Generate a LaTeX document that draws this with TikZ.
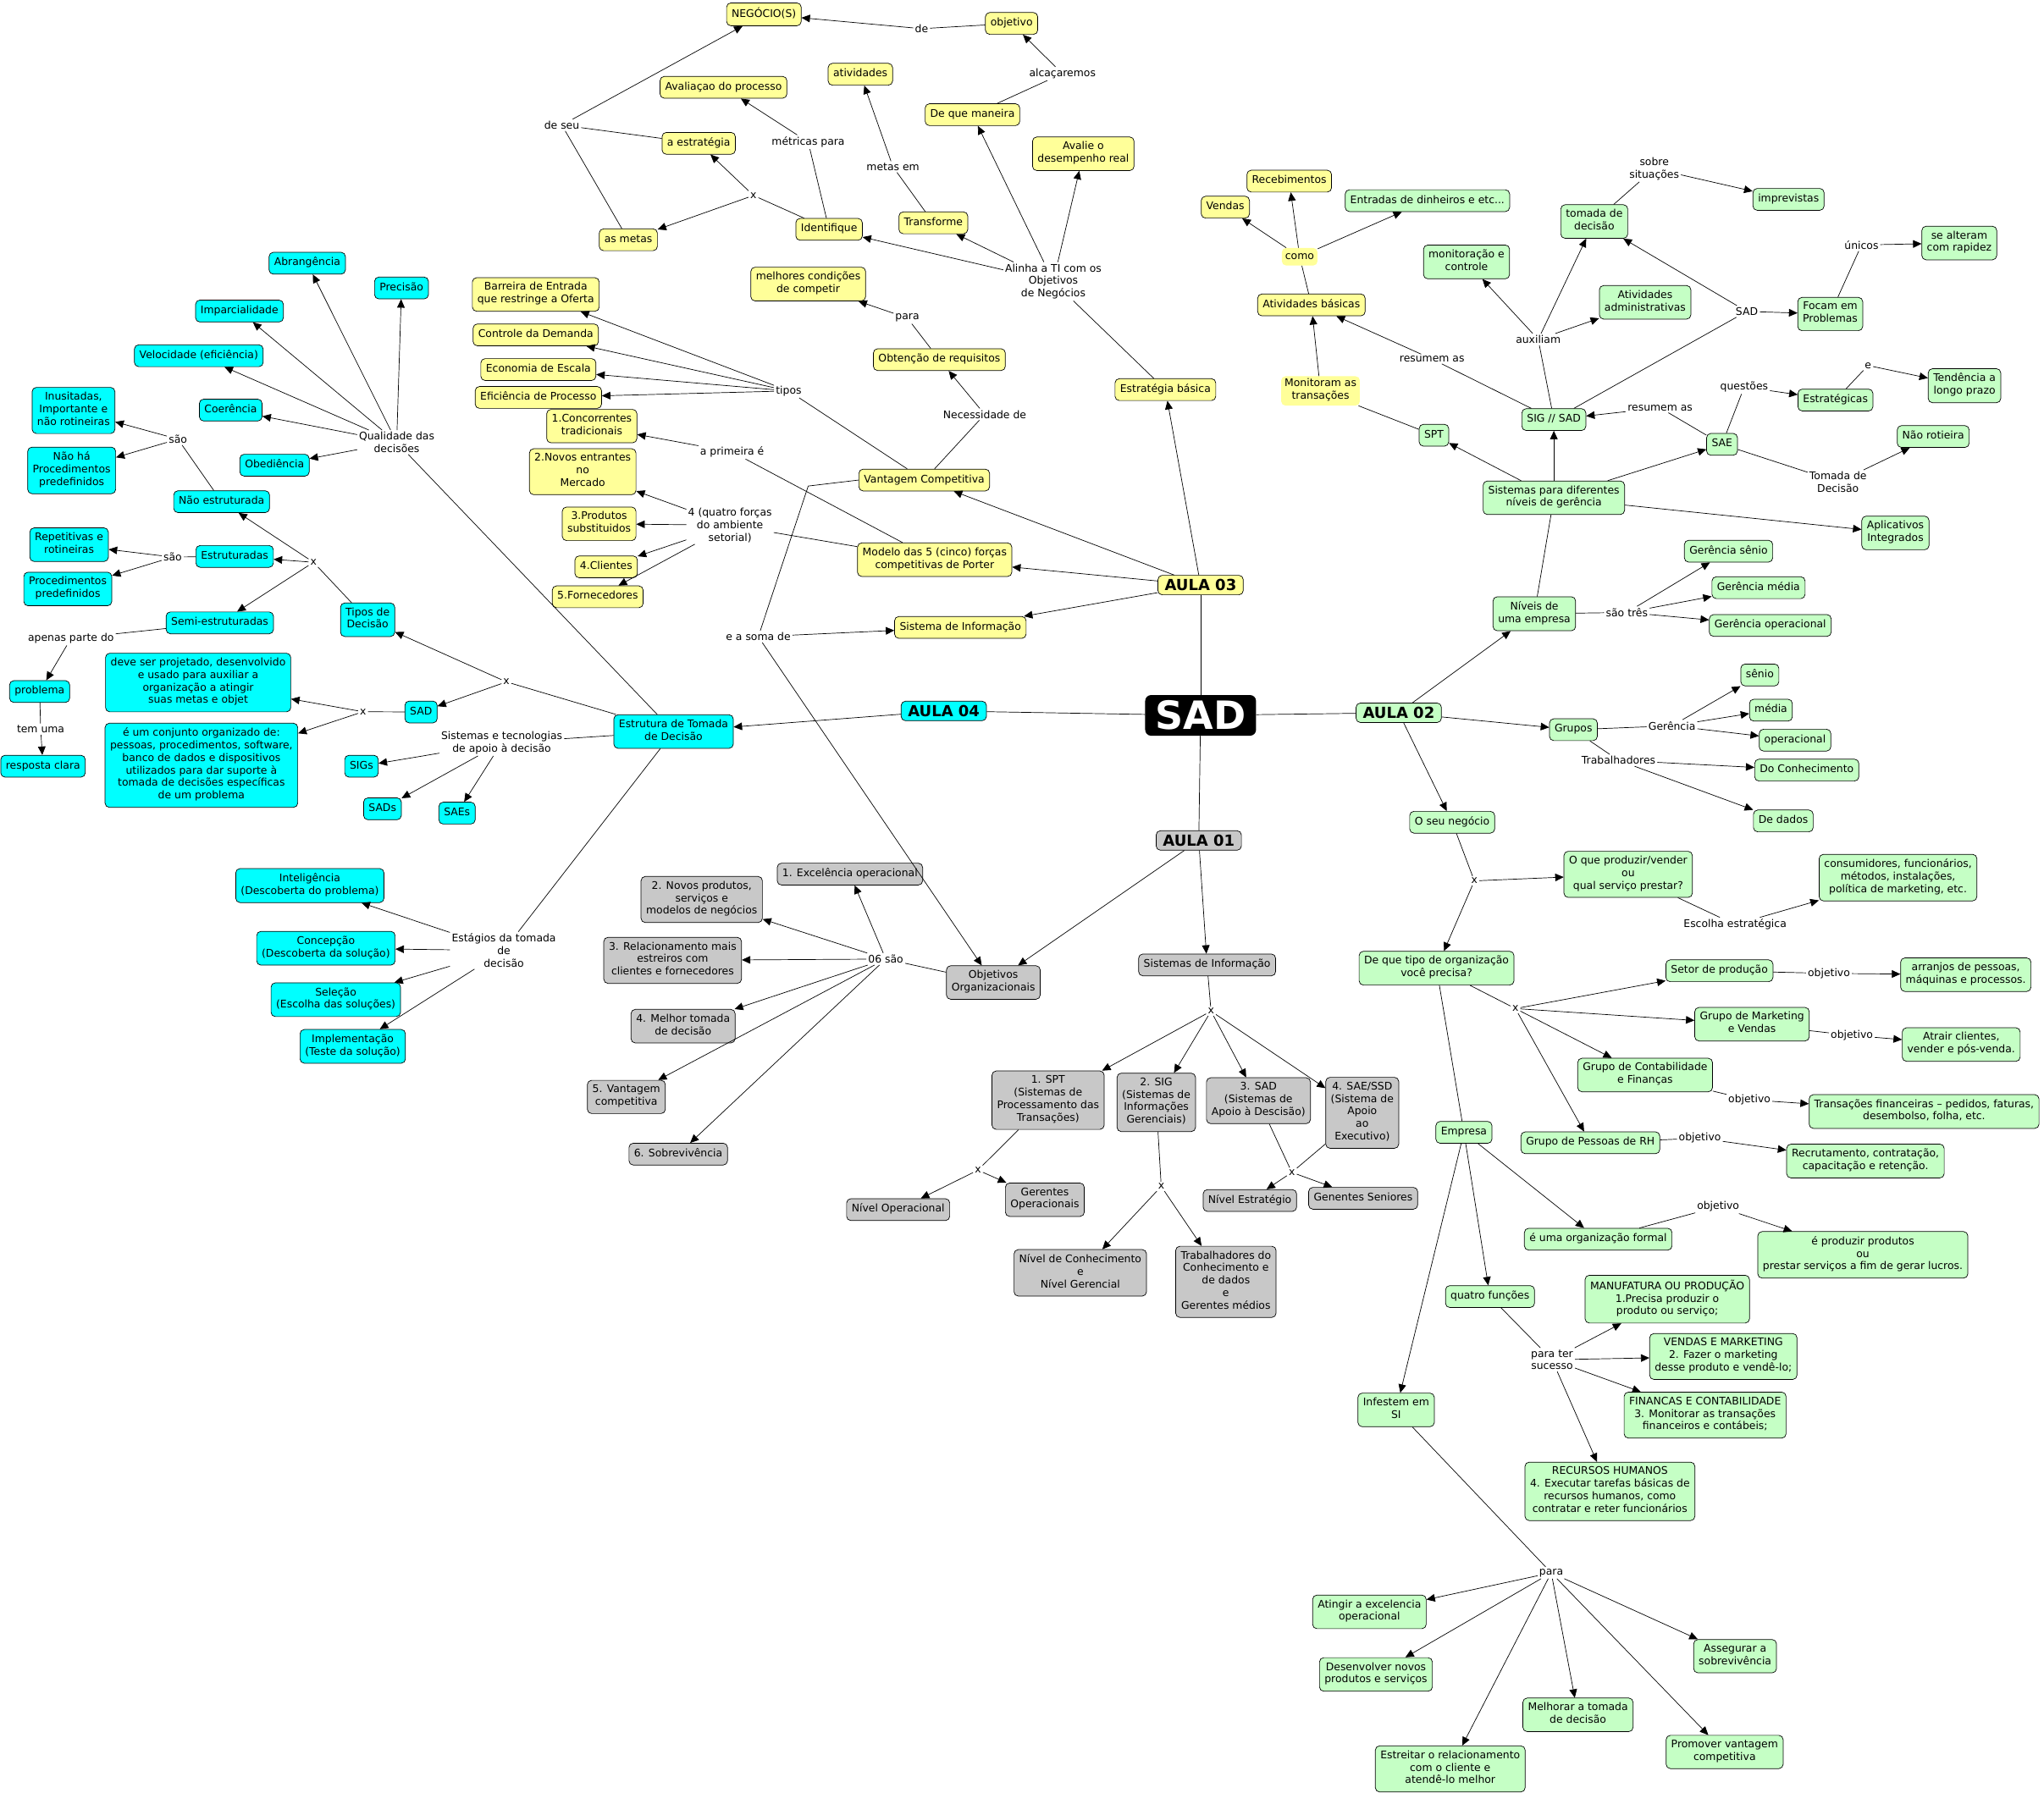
\documentclass[tikz,border=0pt]{standalone}
\usepackage{fontspec}
\setmainfont{DejaVu Sans}
\usetikzlibrary{arrows.meta}
\definecolor{cyY}{RGB}{255,255,153}
\definecolor{cyC}{RGB}{0,255,255}
\definecolor{cyG}{RGB}{197,255,197}
\definecolor{cyK}{RGB}{200,200,200}
\newcommand{\mapfont}{\fontsize{12.4}{14.8}\selectfont}
\newcommand{\aulaFnt}{\fontsize{18}{20}\selectfont\bfseries}
\newcommand{\sadFnt}{\fontsize{46}{50}\selectfont\bfseries}
\tikzset{
  cbox/.style={draw=black, line width=0.7pt, rounded corners=5pt, align=center, inner xsep=6pt, inner ysep=5.5pt, font=\mapfont, execute at begin node=\strut, execute at end node=\strut},
  yel/.style={cbox, fill=cyY},
  cyn/.style={cbox, fill=cyC},
  grn/.style={cbox, fill=cyG},
  gry/.style={cbox, fill=cyK},
  soft/.style={fill=cyY, rounded corners=5pt, align=center, inner xsep=4pt, inner ysep=3pt, font=\mapfont, execute at begin node=\strut, execute at end node=\strut},
  lbl/.style={align=center, inner sep=2pt, font=\mapfont},
  sadbox/.style={fill=black, text=white, rounded corners=7pt, font=\sadFnt, inner xsep=12pt, inner ysep=7.5pt, text height=33pt, text depth=0pt},
  aulabox/.style={draw=black, line width=0.7pt, rounded corners=5pt, font=\aulaFnt, inner xsep=8pt, inner ysep=5pt, text height=13pt, text depth=0pt},
  con/.style={line width=0.7pt},
  arr/.style={line width=0.7pt, -{Triangle[length=10pt,width=9pt]}}
}
\begin{document}
\begin{tikzpicture}[x=1.5395pt,y=-1.5392pt]
\useasboundingbox (0,0) rectangle (1568,1376);
\fill[white] (0,0) rectangle (1568,1376);

% ---------- centre ----------
\node[sadbox] (sad) at (921,549) {SAD};
\node[aulabox, fill=cyY] (a3) at (921,449) {AULA 03};
\node[aulabox, fill=cyC] (a4) at (724,545.6) {AULA 04};
\node[aulabox, fill=cyG] (a2) at (1073,547) {AULA 02};
\node[aulabox, fill=cyK] (a1) at (919.6,645) {AULA 01};

% ---------- AULA 03 ----------
\node[yel] (negocio) at (586,11) {NEGÓCIO(S)};
\node[yel] (objetivo) at (776,18) {objetivo};
\node[lbl] (lde) at (707,22) {de};
\node[lbl] (lalca) at (815,56.5) {alcaçaremos};
\node[yel] (dequem) at (746,88) {De que maneira};
\node[yel] (ativ) at (660,57) {atividades};
\node[yel] (avaliacao) at (555,67) {Avaliaçao do processo};
\node[lbl] (lmetr) at (620,109) {métricas para};
\node[lbl] (lmetas) at (685,128) {metas em};
\node[yel] (avalie) at (831,118) {Avalie o\\desempenho real};
\node[yel] (aestr) at (536,110) {a estratégia};
\node[lbl] (lseu) at (431,96) {de seu};
\node[lbl] (lx1) at (578,150) {x};
\node[yel] (ident) at (636,176) {Identifique};
\node[yel] (transf) at (716,171) {Transforme};
\node[yel] (asmetas) at (482,184) {as metas};
\node[lbl] (lalinha) at (808,216) {Alinha a TI com os\\Objetivos\\de Negócios};
\node[yel] (estrbas) at (894,299) {Estratégia básica};
\node[yel] (barreira) at (411,226) {Barreira de Entrada\\que restringe a Oferta};
\node[yel] (controle) at (411,257) {Controle da Demanda};
\node[yel] (economia) at (413,283.6) {Economia de Escala};
\node[yel] (eficiencia) at (413,305) {Eficiência de Processo};
\node[yel] (concor) at (454,327) {1.Concorrentes\\tradicionais};
\node[lbl] (ltipos) at (605,300) {tipos};
\node[lbl] (lprim) at (561.6,346.8) {a primeira é};
\node[yel] (novos) at (447,362) {2.Novos entrantes\\no\\Mercado};
\node[yel] (produtos) at (459.6,402) {3.Produtos\\substituidos};
\node[yel] (clientes) at (465,435) {4.Clientes};
\node[yel] (fornec) at (458.5,458) {5.Fornecedores};
\node[lbl] (lquatro) at (560,403) {4 (quatro forças\\do ambiente\\setorial)};
\node[yel] (modelo) at (717,429.5) {Modelo das 5 (cinco) forças\\competitivas de Porter};
\node[yel] (vantc) at (709,368.4) {Vantagem Competitiva};
\node[yel] (melhores) at (620,218) {melhores condições\\de competir};
\node[lbl] (lpara1) at (696,244) {para};
\node[yel] (obtencao) at (720.6,276) {Obtenção de requisitos};
\node[lbl] (lnec) at (755.4,318) {Necessidade de};
\node[yel] (sisinf3) at (736.7,481.5) {Sistema de Informação};
\node[lbl] (lsoma) at (581.7,488.6) {e a soma de};
\coordinate (csoma) at (620,373);

% ---------- AULA 02 ----------
\node[yel] (receb) at (989,139) {Recebimentos};
\node[yel] (vendas) at (940,159) {Vendas};
\node[soft] (lcomo) at (997,197) {como};
\node[yel] (ativbas) at (1006,234) {Atividades básicas};
\node[soft] (lmonit) at (1013,300) {Monitoram as\\transações};
\node[grn] (entradas) at (1095,154) {Entradas de dinheiros e etc...};
\node[grn] (tomada) at (1223,170) {tomada de\\decisão};
\node[lbl] (lsobre) at (1269,129.5) {sobre\\situações};
\node[grn] (imprev) at (1372,153) {imprevistas};
\node[grn] (monitor) at (1125,201) {monitoração e\\controle};
\node[grn] (ativadm) at (1262,232) {Atividades\\administrativas};
\node[lbl] (lsad) at (1340,239) {SAD};
\node[grn] (focam) at (1404,241) {Focam em\\Problemas};
\node[lbl] (lunicos) at (1428,188) {únicos};
\node[grn] (alteram) at (1503,186.5) {se alteram\\com rapidez};
\node[lbl] (laux) at (1180,260.5) {auxiliam};
\node[lbl] (lres1) at (1098.5,275.5) {resumem as};
\node[grn] (sigsad) at (1192,322) {SIG // SAD};
\node[lbl] (lres2) at (1273.5,313) {resumem as};
\node[lbl] (lquest) at (1338,297) {questões};
\node[grn] (estrat) at (1408,307) {Estratégicas};
\node[lbl] (le) at (1433,280.5) {e};
\node[grn] (tend) at (1507,296) {Tendência a\\longo prazo};
\node[grn] (spt) at (1100,334) {SPT};
\node[grn] (sae) at (1321,341) {SAE};
\node[grn] (naorot) at (1483,335) {Não rotieira};
\node[lbl] (ltomada) at (1410,370) {Tomada de\\Decisão};
\node[grn] (sistdif) at (1192,382) {Sistemas para diferentes\\níveis de gerência};
\node[grn] (aplic) at (1454,409) {Aplicativos\\Integrados};
\node[grn] (gsenio) at (1326,423) {Gerência sênio};
\node[grn] (gmedia) at (1349,451) {Gerência média};
\node[grn] (goper) at (1358,480) {Gerência operacional};
\node[grn] (niveis) at (1177,471) {Níveis de\\uma empresa};
\node[lbl] (ltres) at (1248,470) {são três};
\node[grn] (senio) at (1350,518) {sênio};
\node[grn] (media) at (1358.5,545) {média};
\node[grn] (operac) at (1377,568) {operacional};
\node[lbl] (lger) at (1282.6,557) {Gerência};
\node[grn] (grupos) at (1207,560) {Grupos};
\node[lbl] (ltrab) at (1241.6,583.5) {Trabalhadores};
\node[grn] (docon) at (1386,591) {Do Conhecimento};
\node[grn] (dedados) at (1368,630) {De dados};
\node[grn] (oseu) at (1114,631) {O seu negócio};
\node[lbl] (lx9) at (1131,676) {x};
\node[grn] (oque) at (1249,671) {O que produzir/vender\\ou\\qual serviço prestar?};
\node[grn] (consum) at (1456,673.5) {consumidores, funcionários,\\métodos, instalações,\\política de marketing, etc.};
\node[lbl] (lescolha) at (1331,709.5) {Escolha estratégica};
\node[grn] (dequetipo) at (1102,743) {De que tipo de organização\\você precisa?};
\node[lbl] (lx10) at (1162.5,774) {x};
\node[grn] (setor) at (1319,745) {Setor de produção};
\node[lbl] (lobj1) at (1403,747) {objetivo};
\node[grn] (arranjos) at (1508,748) {arranjos de pessoas,\\máquinas e processos.};
\node[grn] (mkt) at (1344,786) {Grupo de Marketing\\e Vendas};
\node[lbl] (lobj2) at (1420.6,794.6) {objetivo};
\node[grn] (atrair) at (1504.5,801.6) {Atrair clientes,\\vender e pós-venda.};
\node[grn] (contab) at (1262,825) {Grupo de Contabilidade\\e Finanças};
\node[lbl] (lobj3) at (1342,844) {objetivo};
\node[grn] (transac) at (1476,853) {Transações financeiras – pedidos, faturas,\\desembolso, folha, etc.};
\node[grn] (rh) at (1220,877) {Grupo de Pessoas de RH};
\node[lbl] (lobj4) at (1304,873.5) {objetivo};
\node[grn] (recrut) at (1431,891) {Recrutamento, contratação,\\capacitação e retenção.};
\node[grn] (empresa) at (1123,869) {Empresa};
\node[grn] (formal) at (1226,951) {é uma organização formal};
\node[lbl] (lobj5) at (1318,926) {objetivo};
\node[grn] (produzir) at (1429,963) {é produzir produtos\\ou\\prestar serviços a fim de gerar lucros.};
\node[grn] (quatrof) at (1143,995) {quatro funções};
\node[grn] (manuf) at (1279,997) {MANUFATURA OU PRODUÇÃO\\1.Precisa produzir o\\produto ou serviço;};
\node[lbl] (lparater) at (1190.6,1043.5) {para ter\\sucesso};
\node[grn] (vendmkt) at (1322,1041) {VENDAS E MARKETING\\2. Fazer o marketing\\desse produto e vendê-lo;};
\node[grn] (financ) at (1308,1086) {FINANCAS E CONTABILIDADE\\3. Monitorar as transações\\financeiros e contábeis;};
\node[grn] (rechum) at (1235,1144.5) {RECURSOS HUMANOS\\4. Executar tarefas básicas de\\recursos humanos, como\\contratar e reter funcionários};
\node[grn] (infestem) at (1071,1082) {Infestem em\\SI};
\node[lbl] (lpara2) at (1190,1207) {para};
\node[grn] (atingir) at (1050.5,1237) {Atingir a excelencia\\operacional};
\node[grn] (desenv) at (1055.5,1285) {Desenvolver novos\\produtos e serviços};
\node[grn] (estreitar) at (1112.5,1357.5) {Estreitar o relacionamento\\com o cliente e\\atendê-lo melhor};
\node[grn] (melhorar) at (1210.5,1316) {Melhorar a tomada\\de decisão};
\node[grn] (promover) at (1323,1344.5) {Promover vantagem\\competitiva};
\node[grn] (assegurar) at (1331,1271) {Assegurar a\\sobrevivência};

% ---------- AULA 04 ----------
\node[cyn] (abrang) at (235.7,202) {Abrangência};
\node[cyn] (precisao) at (308,221) {Precisão};
\node[cyn] (impar) at (183.7,238.7) {Imparcialidade};
\node[cyn] (veloc) at (152.5,273) {Velocidade (eficiência)};
\node[cyn] (coer) at (177,314.7) {Coerência};
\node[lbl] (lqual) at (304.3,339.4) {Qualidade das\\decisões};
\node[cyn] (inusit) at (56.4,315) {Inusitadas,\\Importante e\\não rotineiras};
\node[lbl] (lsao1) at (136.5,337) {são};
\node[cyn] (naoha) at (55,361) {Não há\\Procedimentos\\predefinidos};
\node[cyn] (obed) at (210.6,357) {Obediência};
\node[cyn] (naoestr) at (170,385) {Não estruturada};
\node[cyn] (repet) at (53,418) {Repetitivas e\\rotineiras};
\node[lbl] (lsao2) at (132.5,427.5) {são};
\node[cyn] (estrut) at (180,427) {Estruturadas};
\node[lbl] (lx7) at (240.5,431.5) {x};
\node[cyn] (procpre) at (52,452) {Procedimentos\\predefinidos};
\node[cyn] (semi) at (168.6,478) {Semi-estruturadas};
\node[cyn] (tiposdec) at (282,475.6) {Tipos de\\Decisão};
\node[lbl] (lapenas) at (54.4,490) {apenas parte do};
\node[cyn] (deve) at (152,523.8) {deve ser projetado, desenvolvido\\e usado para auxiliar a\\organização a atingir\\suas metas e objet};
\node[cyn] (problema) at (30.4,530.7) {problema};
\node[lbl] (lx6) at (388.5,523.3) {x};
\node[cyn] (sadc) at (323,546.4) {SAD};
\node[lbl] (lx8) at (278.5,546.2) {x};
\node[cyn] (estrutura) at (516.7,561.4) {Estrutura de Tomada\\de Decisão};
\node[lbl] (ltem) at (31.2,559.6) {tem uma};
\node[cyn] (conjunto) at (154.5,587.3) {é um conjunto organizado de:\\pessoas, procedimentos, software,\\banco de dados e dispositivos\\utilizados para dar suporte à\\tomada de decisões específicas\\de um problema};
\node[lbl] (lsistec) at (384.9,570) {Sistemas e tecnologias\\de apoio à decisão};
\node[cyn] (resposta) at (33,588) {resposta clara};
\node[cyn] (sigs) at (277.3,588) {SIGs};
\node[cyn] (sads) at (293.4,620.7) {SADs};
\node[cyn] (saes) at (350.6,624) {SAEs};
\node[cyn] (intel) at (237.7,679.6) {Inteligência\\(Descoberta do problema)};
\node[lbl] (lestag) at (386.5,729.4) {Estágios da tomada\\de\\decisão};
\node[cyn] (concep) at (250,727.7) {Concepção\\(Descoberta da solução)};
\node[cyn] (selec) at (257.6,767.2) {Seleção\\(Escolha das soluções)};
\node[cyn] (implem) at (270.6,803) {Implementação\\(Teste da solução)};

% ---------- AULA 01 ----------
\node[gry] (e1) at (652,670.8) {1. Excelência operacional};
\node[gry] (e2) at (538.3,690.3) {2. Novos produtos,\\serviços e\\modelos de negócios};
\node[gry] (e3) at (516,737) {3. Relacionamento mais\\estreiros com\\clientes e fornecedores};
\node[lbl] (lseis) at (679.5,736) {06 são};
\node[gry] (objorg) at (762,754) {Objetivos\\Organizacionais};
\node[gry] (e4) at (524,787.5) {4. Melhor tomada\\de decisão};
\node[gry] (e5) at (480.5,841.8) {5. Vantagem\\competitiva};
\node[gry] (e6) at (520.3,885.7) {6. Sobrevivência};
\node[gry] (sisinf1) at (926,740.5) {Sistemas de Informação};
\node[lbl] (lx2) at (929,776) {x};
\node[gry] (spt1) at (804,844.3) {1. SPT\\(Sistemas de\\Processamento das\\Transações)};
\node[gry] (sig2) at (887,846) {2. SIG\\(Sistemas de\\Informações\\Gerenciais)};
\node[gry] (sad3) at (965.4,844.7) {3. SAD\\(Sistemas de\\Apoio à Descisão)};
\node[gry] (sae4) at (1045,854) {4. SAE/SSD\\(Sistema de\\Apoio\\ao\\Executivo)};
\node[lbl] (lx3) at (750.2,898) {x};
\node[gry] (nivop) at (689,928.3) {Nível Operacional};
\node[gry] (gerop) at (801.5,920.7) {Gerentes\\Operacionais};
\node[lbl] (lx4) at (890.8,910.5) {x};
\node[gry] (nivcon) at (828.7,976.8) {Nível de Conhecimento\\e\\Nível Gerencial};
\node[gry] (trabc) at (940.4,983.7) {Trabalhadores do\\Conhecimento e\\de dados\\e\\Gerentes médios};
\node[lbl] (lx5) at (991,899.7) {x};
\node[gry] (nivest) at (958.8,921.3) {Nível Estratégio};
\node[gry] (gensen) at (1045.7,919.6) {Genentes Seniores};

% ================= connectors =================
\draw[con] (sad) -- (a3);
\draw[con] (sad) -- (a4);
\draw[con] (sad) -- (a2);
\draw[con] (sad) -- (a1);

% AULA 03
\draw[arr] (a3) -- (vantc);
\draw[arr] (a3) -- (modelo);
\draw[arr] (a3) -- (sisinf3);
\draw[arr] (a3) -- (estrbas);
\draw[con] (estrbas) -- (lalinha);
\draw[arr] (lalinha) -- (ident);
\draw[arr] (lalinha) -- (transf);
\draw[arr] (lalinha) -- (dequem);
\draw[arr] (lalinha) -- (avalie);
\draw[con] (transf) -- (lmetas);
\draw[arr] (lmetas) -- (ativ);
\draw[con] (dequem) -- (lalca);
\draw[arr] (lalca) -- (objetivo);
\draw[con] (objetivo) -- (lde);
\draw[arr] (lde) -- (negocio);
\draw[con] (ident) -- (lmetr);
\draw[arr] (lmetr) -- (avaliacao);
\draw[con] (ident) -- (lx1);
\draw[arr] (lx1) -- (aestr);
\draw[arr] (lx1) -- (asmetas);
\draw[con] (asmetas) -- (lseu);
\draw[con] (aestr) -- (lseu);
\draw[arr] (lseu) -- (negocio);
\draw[con] (vantc) -- (lnec);
\draw[arr] (lnec) -- (obtencao);
\draw[con] (obtencao) -- (lpara1);
\draw[arr] (lpara1) -- (melhores);
\draw[con] (vantc) -- (ltipos);
\draw[arr] (ltipos) -- (barreira);
\draw[arr] (ltipos) -- (controle);
\draw[arr] (ltipos) -- (economia);
\draw[arr] (ltipos) -- (eficiencia);
\draw[con] (modelo) -- (lprim);
\draw[arr] (lprim) -- (concor);
\draw[con] (modelo) -- (lquatro);
\draw[arr] (lquatro) -- (novos);
\draw[arr] (lquatro) -- (produtos);
\draw[arr] (lquatro) -- (clientes);
\draw[arr] (lquatro) -- (fornec);
\draw[con] (vantc.west) -- (csoma) -- (lsoma);
\draw[arr] (lsoma) -- (sisinf3);
\draw[arr] (lsoma) -- (objorg);

% AULA 02
\draw[arr] (a2) -- (niveis);
\draw[arr] (a2) -- (grupos);
\draw[arr] (a2) -- (oseu);
\draw[con] (niveis) -- (ltres);
\draw[arr] (ltres) -- (gsenio);
\draw[arr] (ltres) -- (gmedia);
\draw[arr] (ltres) -- (goper);
\draw[con] (niveis) -- (sistdif);
\draw[arr] (sistdif) -- (spt);
\draw[arr] (sistdif) -- (sigsad);
\draw[arr] (sistdif) -- (sae);
\draw[arr] (sistdif) -- (aplic);
\draw[con] (sigsad) -- (lres1);
\draw[arr] (lres1) -- (ativbas);
\draw[con] (sigsad) -- (laux);
\draw[arr] (laux) -- (monitor);
\draw[arr] (laux) -- (tomada);
\draw[arr] (laux) -- (ativadm);
\draw[con] (sigsad) -- (lsad);
\draw[arr] (lsad) -- (tomada);
\draw[arr] (lsad) -- (focam);
\draw[con] (tomada) -- (lsobre);
\draw[arr] (lsobre) -- (imprev);
\draw[con] (focam) -- (lunicos);
\draw[arr] (lunicos) -- (alteram);
\draw[con] (sae) -- (lres2);
\draw[arr] (lres2) -- (sigsad);
\draw[con] (sae) -- (lquest);
\draw[arr] (lquest) -- (estrat);
\draw[con] (estrat) -- (le);
\draw[arr] (le) -- (tend);
\draw[con] (sae) -- (ltomada);
\draw[arr] (ltomada) -- (naorot);
\draw[con] (spt) -- (lmonit);
\draw[arr] (lmonit) -- (ativbas);
\draw[con] (ativbas) -- (lcomo);
\draw[arr] (lcomo) -- (vendas);
\draw[arr] (lcomo) -- (receb);
\draw[arr] (lcomo) -- (entradas);
\draw[con] (grupos) -- (lger);
\draw[arr] (lger) -- (senio);
\draw[arr] (lger) -- (media);
\draw[arr] (lger) -- (operac);
\draw[con] (grupos) -- (ltrab);
\draw[arr] (ltrab) -- (docon);
\draw[arr] (ltrab) -- (dedados);
\draw[con] (oseu) -- (lx9);
\draw[arr] (lx9) -- (oque);
\draw[arr] (lx9) -- (dequetipo);
\draw[con] (oque) -- (lescolha);
\draw[arr] (lescolha) -- (consum);
\draw[con] (dequetipo) -- (lx10);
\draw[arr] (lx10) -- (setor);
\draw[arr] (lx10) -- (mkt);
\draw[arr] (lx10) -- (contab);
\draw[arr] (lx10) -- (rh);
\draw[con] (setor) -- (lobj1);
\draw[arr] (lobj1) -- (arranjos);
\draw[con] (mkt) -- (lobj2);
\draw[arr] (lobj2) -- (atrair);
\draw[con] (contab) -- (lobj3);
\draw[arr] (lobj3) -- (transac);
\draw[con] (rh) -- (lobj4);
\draw[arr] (lobj4) -- (recrut);
\draw[con] (dequetipo) -- (empresa);
\draw[arr] (empresa) -- (formal);
\draw[con] (formal) -- (lobj5);
\draw[arr] (lobj5) -- (produzir);
\draw[arr] (empresa) -- (quatrof);
\draw[con] (quatrof) -- (lparater);
\draw[arr] (lparater) -- (manuf);
\draw[arr] (lparater) -- (vendmkt);
\draw[arr] (lparater) -- (financ);
\draw[arr] (lparater) -- (rechum);
\draw[arr] (empresa) -- (infestem);
\draw[con] (infestem) -- (lpara2);
\draw[arr] (lpara2) -- (atingir);
\draw[arr] (lpara2) -- (desenv);
\draw[arr] (lpara2) -- (estreitar);
\draw[arr] (lpara2) -- (melhorar);
\draw[arr] (lpara2) -- (promover);
\draw[arr] (lpara2) -- (assegurar);

% AULA 04
\draw[arr] (a4) -- (estrutura);
\draw[con] (estrutura) -- (lqual);
\draw[arr] (lqual) -- (abrang);
\draw[arr] (lqual) -- (precisao);
\draw[arr] (lqual) -- (impar);
\draw[arr] (lqual) -- (veloc);
\draw[arr] (lqual) -- (coer);
\draw[arr] (lqual) -- (obed);
\draw[con] (estrutura) -- (lx6);
\draw[arr] (lx6) -- (tiposdec);
\draw[arr] (lx6) -- (sadc);
\draw[con] (tiposdec) -- (lx7);
\draw[arr] (lx7) -- (naoestr);
\draw[arr] (lx7) -- (estrut);
\draw[arr] (lx7) -- (semi);
\draw[con] (naoestr) -- (lsao1);
\draw[arr] (lsao1) -- (inusit);
\draw[arr] (lsao1) -- (naoha);
\draw[con] (estrut) -- (lsao2);
\draw[arr] (lsao2) -- (repet);
\draw[arr] (lsao2) -- (procpre);
\draw[con] (semi) -- (lapenas);
\draw[arr] (lapenas) -- (problema);
\draw[con] (problema) -- (ltem);
\draw[arr] (ltem) -- (resposta);
\draw[con] (sadc) -- (lx8);
\draw[arr] (lx8) -- (deve);
\draw[arr] (lx8) -- (conjunto);
\draw[con] (estrutura) -- (lsistec);
\draw[arr] (lsistec) -- (sigs);
\draw[arr] (lsistec) -- (sads);
\draw[arr] (lsistec) -- (saes);
\draw[con] (estrutura) -- (lestag);
\draw[arr] (lestag) -- (intel);
\draw[arr] (lestag) -- (concep);
\draw[arr] (lestag) -- (selec);
\draw[arr] (lestag) -- (implem);

% AULA 01
\draw[arr] (a1) -- (objorg);
\draw[arr] (a1) -- (sisinf1);
\draw[con] (objorg) -- (lseis);
\draw[arr] (lseis) -- (e1);
\draw[arr] (lseis) -- (e2);
\draw[arr] (lseis) -- (e3);
\draw[arr] (lseis) -- (e4);
\draw[arr] (lseis) -- (e5);
\draw[arr] (lseis) -- (e6);
\draw[con] (sisinf1) -- (lx2);
\draw[arr] (lx2) -- (spt1);
\draw[arr] (lx2) -- (sig2);
\draw[arr] (lx2) -- (sad3);
\draw[arr] (lx2) -- (sae4);
\draw[con] (spt1) -- (lx3);
\draw[arr] (lx3) -- (nivop);
\draw[arr] (lx3) -- (gerop);
\draw[con] (sig2) -- (lx4);
\draw[arr] (lx4) -- (nivcon);
\draw[arr] (lx4) -- (trabc);
\draw[con] (sad3) -- (lx5);
\draw[con] (sae4) -- (lx5);
\draw[arr] (lx5) -- (nivest);
\draw[arr] (lx5) -- (gensen);
\end{tikzpicture}
\end{document}
